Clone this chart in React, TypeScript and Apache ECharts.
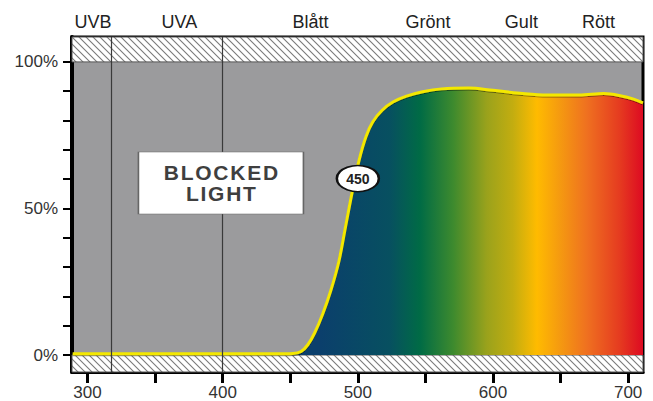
import React, { useEffect, useRef } from "react";
import * as echarts from "echarts";

// Wavelength (nm) and transmission (%) of the filter curve
const wavelengths = [289, 350, 400, 440, 452, 458, 463, 468, 474, 480, 486, 491, 496, 501, 506, 511, 518, 526, 536, 548, 562, 582, 600, 620, 640, 664, 682, 695, 704, 711];
const transmission = [0.4, 0.4, 0.4, 0.4, 0.5, 1.2, 3.5, 7.5, 14, 22, 32, 44, 56, 66.6, 74.5, 79.5, 83.5, 86.3, 88.3, 89.8, 90.8, 91.1, 90.3, 89.3, 88.7, 88.7, 89.2, 88.4, 87.3, 86];

// Axis ticks / labels
const xTicks = [300, 350, 400, 450, 500, 550, 600, 650, 700];
const xLabels = [300, 400, 500, 600, 700];
const yTicks = [0, 10, 20, 30, 40, 50, 60, 70, 80, 90, 100];
const yLabels = [0, 50, 100];

// Spectrum bands across the top
const bandNames = ["UVB", "UVA", "Blått", "Grönt", "Gult", "Rött"];
const bandCenters = [304, 368, 465, 552, 621, 678];
const bandBoundaries = [317.7, 400];

// Annotations
const blockedLines = ["BLOCKED", "LIGHT"];
const blockedPos = [398.7, 58.7];
const markerText = "450";
const markerPos = [500, 60.2];

const X_MIN = 288.5;
const X_MAX = 711;
const Y_MIN = -5.8;
const Y_MAX = 108.5;

const FONT = "'Liberation Sans', Arial, Helvetica, sans-serif";

const hatchSvg =
  '<svg xmlns="http://www.w3.org/2000/svg" width="7" height="7"><rect width="7" height="7" fill="#ffffff"/><path d="M-1,-1 L8,8 M-1,6 L1,8 M6,-1 L8,1" stroke="#7a7a7a" stroke-width="1.1"/></svg>';
const hatchUrl = "data:image/svg+xml;utf8," + encodeURIComponent(hatchSvg);

const spaced = (s: string) => s.split("").join("\u200A");

export default function App() {
  const ref = useRef<HTMLDivElement>(null);

  useEffect(() => {
    if (!ref.current) return;
    const chart = echarts.init(ref.current, null, { renderer: "svg" });
    const hatch: any = { image: hatchUrl, repeat: "repeat", imageWidth: 7, imageHeight: 7 };

    const option: any = {
      animation: false,
      backgroundColor: "#ffffff",
      textStyle: { fontFamily: FONT },
      grid: {
        left: 72,
        right: 10,
        top: 37,
        bottom: 29,
        show: true,
        containLabel: false,
        outerBoundsMode: "none",
        backgroundColor: "#9b9b9d",
        borderColor: "#000",
        borderWidth: 3,
      },
      xAxis: [
        {
          type: "value",
          position: "bottom",
          min: X_MIN,
          max: X_MAX,
          axisLine: { show: true, onZero: false, lineStyle: { color: "#000", width: 3 } },
          axisTick: { show: true, customValues: xTicks, length: 11, lineStyle: { color: "#000", width: 3 } },
          axisLabel: { customValues: xLabels, fontSize: 17, color: "#333", margin: 12, fontFamily: FONT },
          splitLine: { show: false },
        },
        {
          type: "value",
          position: "top",
          min: X_MIN,
          max: X_MAX,
          axisLine: { show: false },
          axisTick: { show: false },
          axisLabel: {
            customValues: bandCenters,
            formatter: (v: number) => bandNames[bandCenters.indexOf(v)] ?? "",
            fontSize: 18,
            color: "#222",
            margin: 6,
            fontFamily: FONT,
          },
          splitLine: { show: false },
        },
      ],
      yAxis: {
        type: "value",
        min: Y_MIN,
        max: Y_MAX,
        axisLine: { show: true, onZero: false, lineStyle: { color: "#000", width: 4 } },
        axisTick: { show: true, customValues: yTicks, length: 9, lineStyle: { color: "#000", width: 2 } },
        axisLabel: { customValues: yLabels, formatter: "{value}%", fontSize: 17, color: "#333", margin: 14, fontFamily: FONT },
        splitLine: { show: false },
      },
      series: [
        {
          type: "line",
          xAxisIndex: 0,
          data: wavelengths.map((w, i) => [w, transmission[i]]),
          smooth: 0.35,
          symbol: "none",
          z: 3,
          lineStyle: {
            color: "#f4e800",
            width: 3,
            shadowColor: "rgba(0,0,0,0.45)",
            shadowBlur: 1,
            shadowOffsetY: 1,
          },
          areaStyle: {
            opacity: 1,
            color: new echarts.graphic.LinearGradient(0, 0, 1, 0, [
              { offset: 0, color: "#0b3f6c" },
              { offset: 0.434, color: "#0b3f6c" },
              { offset: 0.556, color: "#075060" },
              { offset: 0.609, color: "#006b45" },
              { offset: 0.667, color: "#3d8a2e" },
              { offset: 0.726, color: "#9aa21c" },
              { offset: 0.772, color: "#c3ad10" },
              { offset: 0.814, color: "#ffbb00" },
              { offset: 0.854, color: "#f59a10" },
              { offset: 0.902, color: "#ef7020" },
              { offset: 0.96, color: "#e53a20" },
              { offset: 1, color: "#dd0a22" },
            ]),
          },
          markArea: {
            silent: true,
            itemStyle: { color: hatch, borderColor: "#555", borderWidth: 1 },
            data: [
              [{ yAxis: 100 }, { yAxis: Y_MAX }],
              [{ yAxis: Y_MIN }, { yAxis: 0 }],
            ],
          },
          markLine: {
            silent: true,
            symbol: "none",
            label: { show: false },
            lineStyle: { color: "#3a3a3a", width: 1.2, type: "solid" },
            data: bandBoundaries.map((b) => ({ xAxis: b })),
          },
          markPoint: {
            silent: true,
            data: [
              {
                coord: blockedPos,
                symbol: "rect",
                symbolSize: [165, 62],
                itemStyle: { color: "#ffffff", borderColor: "#666", borderWidth: 1 },
                label: {
                  show: true,
                  position: "inside",
                  formatter: blockedLines.map(spaced).join("\n"),
                  fontSize: 21,
                  lineHeight: 21,
                  fontWeight: "bold",
                  color: "#3f3f3f",
                  fontFamily: FONT,
                },
              },
              {
                coord: markerPos,
                symbol: "circle",
                symbolSize: [42, 26],
                itemStyle: { color: "#ffffff", borderColor: "#111", borderWidth: 2 },
                label: {
                  show: true,
                  position: "inside",
                  formatter: markerText,
                  fontSize: 14,
                  fontWeight: "bold",
                  color: "#222",
                  fontFamily: FONT,
                },
              },
            ],
          },
        },
      ],
    };
    chart.setOption(option);
    return () => chart.dispose();
  }, []);

  return (
    <div
      ref={ref}
      style={{ position: "fixed", left: 0, top: 0, width: 653, height: 401, background: "#fff" }}
    />
  );
}
